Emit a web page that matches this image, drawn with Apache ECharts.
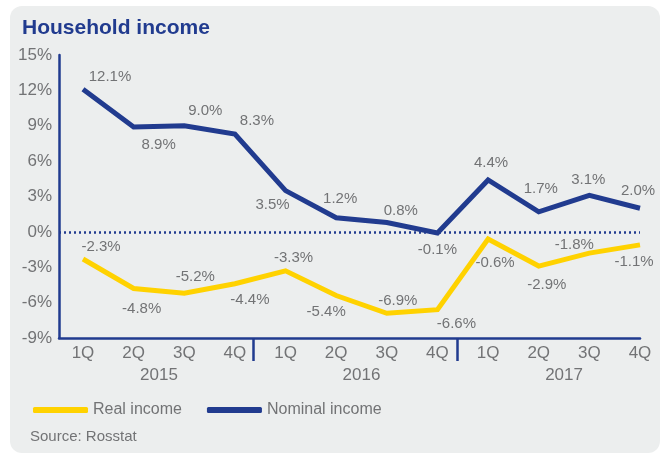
<!DOCTYPE html>
<html>
<head>
<meta charset="utf-8">
<script src="https://cdn.jsdelivr.net/npm/echarts@6/dist/echarts.min.js"></script>
<style>
  html, body { margin: 0; padding: 0; background: #ffffff; }
  #chart { width: 661px; height: 455px; }
</style>
</head>
<body>
<div id="chart"></div>
<script>
// Quarterly growth of household income, % year on year
const quarters = ['1Q', '2Q', '3Q', '4Q', '1Q', '2Q', '3Q', '4Q', '1Q', '2Q', '3Q', '4Q'];
const years = ['2015', '2016', '2017'];
const nominalIncome = [12.1, 8.9, 9.0, 8.3, 3.5, 1.2, 0.8, -0.1, 4.4, 1.7, 3.1, 2.0];
const realIncome = [-2.3, -4.8, -5.2, -4.4, -3.3, -5.4, -6.9, -6.6, -0.6, -2.9, -1.8, -1.1];
const yTicks = [-9, -6, -3, 0, 3, 6, 9, 12, 15];

// label placement around each point (pixels)
const nominalLabelOffsets = [[27, -12], [25, 18], [21, -15], [22, -13], [-13, 14], [4, -19],
  [14, -12], [0, 17], [3, -17], [2, -23], [-1, -15], [-2, -17]];
const realLabelOffsets = [[18, -12], [8, 20], [11, -16], [15, 16], [8, -13], [-10, 16],
  [11, -12], [19, 14], [7, 24], [8, 19], [-15, -8], [-6, 17]];

const NAVY = '#213b8f';
const YELLOW = '#ffd200';
const GREY = '#727375';
const FONT = '"Liberation Sans", Arial, sans-serif';

// year groups are centred under their four quarters; separators sit between groups
const yearPositions = [1.5, 5.5, 9.5];
const separatorPositions = [3.36, 7.4];

function seriesData(values, offsets) {
  return values.map((v, i) => ({
    value: [i, v],
    label: { offset: offsets[i] }
  }));
}

const chart = echarts.init(document.getElementById('chart'), null, { renderer: 'canvas' });

chart.setOption({
  animation: false,
  backgroundColor: '#ffffff',
  textStyle: { fontFamily: FONT },
  graphic: [
    {
      type: 'rect',
      z: -10,
      shape: { x: 10, y: 6, width: 650, height: 447, r: 12 },
      style: { fill: '#eceeee' }
    },
    {
      type: 'text',
      left: 30,
      top: 429,
      style: { text: 'Source: Rosstat', fill: GREY, font: '15px ' + FONT }
    }
  ],
  title: {
    text: 'Household income',
    left: 22,
    top: 18,
    padding: 0,
    textStyle: { color: NAVY, fontSize: 21, fontWeight: 'bold', fontFamily: FONT }
  },
  legend: {
    left: 28,
    top: 397,
    itemWidth: 55,
    itemHeight: 6,
    itemGap: 25,
    icon: 'roundRect',
    textStyle: { color: GREY, fontSize: 16, fontFamily: FONT },
    data: ['Real income', 'Nominal income']
  },
  grid: { left: 59, right: 21, top: 55, bottom: 117, containLabel: false },
  xAxis: [
    {
      type: 'value',
      min: -0.474,
      max: 11,
      axisLine: { show: true, onZero: false, lineStyle: { color: NAVY, width: 2.5 } },
      splitLine: { show: false },
      axisTick: {
        show: true,
        customValues: separatorPositions,
        length: 23,
        inside: false,
        lineStyle: { color: NAVY, width: 2.5 }
      },
      axisLabel: {
        customValues: quarters.map((q, i) => i),
        formatter: v => quarters[Math.round(v)],
        color: GREY,
        fontSize: 17,
        margin: 7,
        fontFamily: FONT
      }
    },
    {
      type: 'value',
      min: -0.474,
      max: 11,
      position: 'bottom',
      axisLine: { show: false },
      splitLine: { show: false },
      axisTick: { show: false },
      axisLabel: {
        customValues: yearPositions,
        formatter: v => years[yearPositions.indexOf(v)],
        color: GREY,
        fontSize: 17,
        margin: 29,
        fontFamily: FONT
      }
    }
  ],
  yAxis: {
    type: 'value',
    min: -9,
    max: 15,
    interval: 3,
    axisLine: { show: true, onZero: false, lineStyle: { color: NAVY, width: 2.5 } },
    axisTick: { show: false },
    splitLine: { show: false },
    axisLabel: {
      customValues: yTicks,
      formatter: v => v + '%',
      color: GREY,
      fontSize: 17,
      margin: 7,
      fontFamily: FONT
    }
  },
  series: [
    {
      name: 'Real income',
      type: 'line',
      data: seriesData(realIncome, realLabelOffsets),
      symbol: 'circle',
      symbolSize: 0.1,
      showSymbol: true,
      color: YELLOW,
      lineStyle: { color: YELLOW, width: 5, join: 'miter' },
      label: {
        show: true,
        position: 'inside',
        align: 'center',
        verticalAlign: 'middle',
        formatter: p => p.value[1].toFixed(1) + '%',
        color: GREY,
        fontSize: 15,
        fontFamily: FONT
      },
      z: 3
    },
    {
      name: 'Nominal income',
      type: 'line',
      data: seriesData(nominalIncome, nominalLabelOffsets),
      symbol: 'circle',
      symbolSize: 0.1,
      showSymbol: true,
      color: NAVY,
      lineStyle: { color: NAVY, width: 5, join: 'miter' },
      label: {
        show: true,
        position: 'inside',
        align: 'center',
        verticalAlign: 'middle',
        formatter: p => p.value[1].toFixed(1) + '%',
        color: GREY,
        fontSize: 15,
        fontFamily: FONT
      },
      markLine: {
        silent: true,
        symbol: 'none',
        label: { show: false },
        lineStyle: { color: NAVY, width: 2.5, type: [2, 3] },
        data: [{ yAxis: 0 }]
      },
      z: 4
    }
  ]
});
</script>
</body>
</html>
